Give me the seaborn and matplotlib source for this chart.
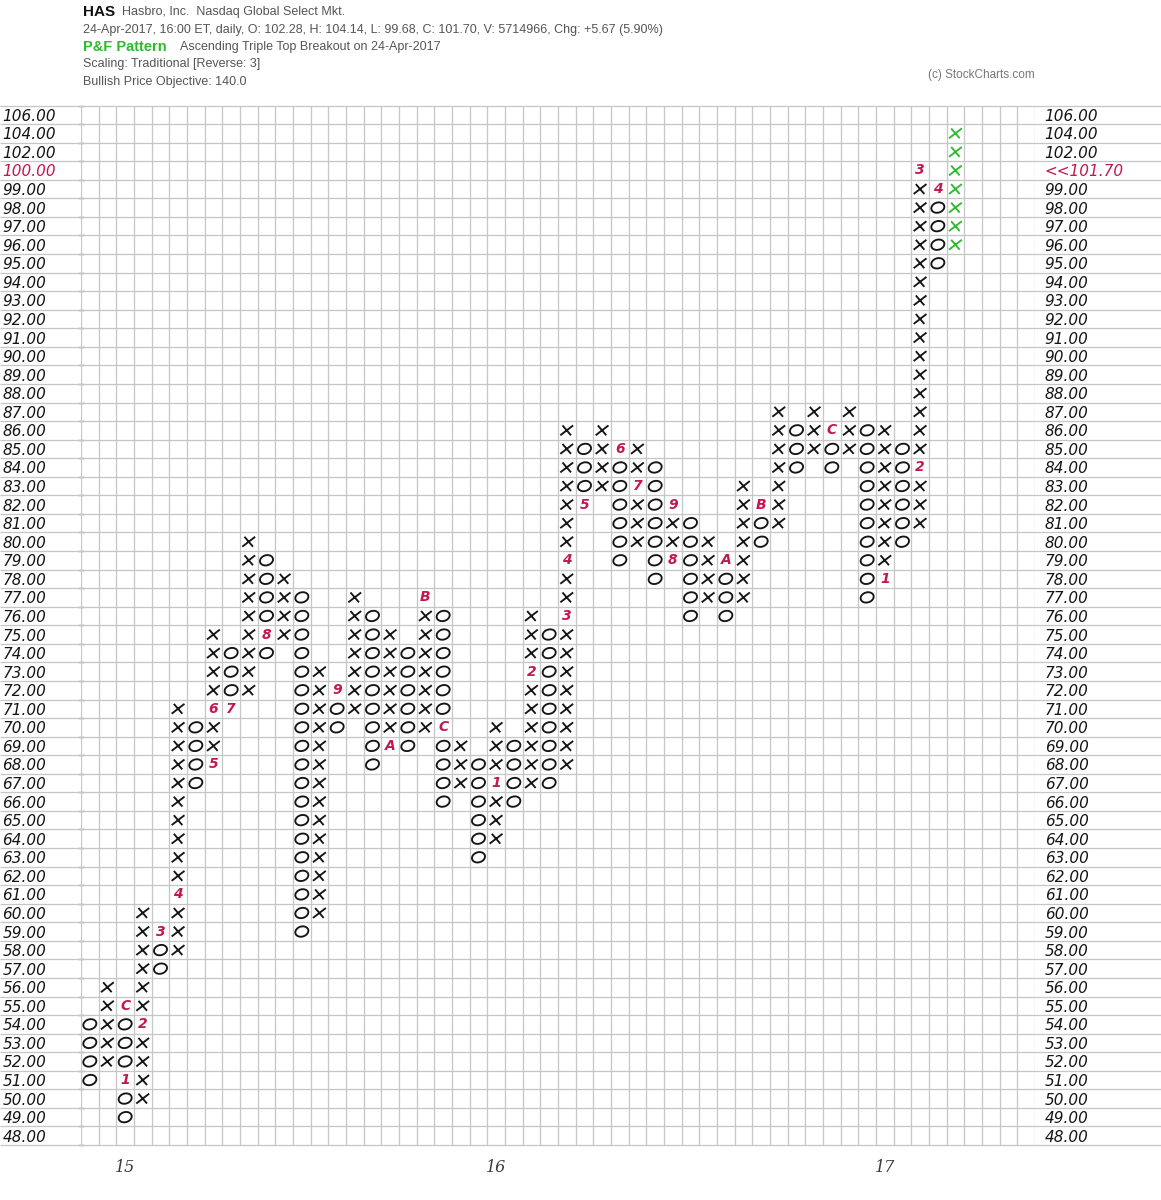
import numpy as np
import pandas as pd
import matplotlib
matplotlib.use("Agg")
import matplotlib.pyplot as plt
from matplotlib.path import Path
import seaborn as sns

# ---- HAS point & figure data: traditional box scale, 3-box reversal ----
price_levels = list(range(48, 100)) + [100, 102, 104, 106]

column_kind = ["O", "X"] * 25
column_low = [51, 52, 49, 50, 57, 58, 67, 68, 71, 72,
              74, 75, 59, 60, 70, 71, 68, 69, 69, 70,
              66, 67, 63, 64, 66, 67, 67, 68, 82, 83,
              79, 80, 78, 79, 76, 77, 76, 77, 80, 81,
              84, 85, 84, 85, 77, 78, 80, 81, 95, 96]
column_high = [54, 56, 55, 60, 59, 71, 70, 75, 74, 80,
               79, 78, 77, 73, 72, 77, 76, 75, 74, 77,
               76, 69, 68, 70, 69, 76, 75, 86, 85, 86,
               85, 85, 84, 82, 81, 80, 79, 83, 82, 87,
               86, 87, 86, 87, 86, 86, 85, 100, 99, 104]

# first box of each month (1-9, A=Oct, B=Nov, C=Dec)
month_col = [2, 2, 3, 4, 5, 7, 7, 8, 10, 14, 17, 19, 20, 23, 25, 27, 27, 28,
             30, 31, 33, 33, 36, 38, 42, 45, 47, 47, 48]
month_price = [55, 51, 54, 59, 61, 68, 71, 71, 75, 72, 69, 77, 70, 67, 73, 76,
               79, 82, 85, 83, 79, 82, 79, 82, 86, 78, 84, 100, 99]
month_label = ["C", "1", "2", "3", "4", "5", "6", "7", "8", "9", "A", "B", "C",
               "1", "2", "3", "4", "5", "6", "7", "8", "9", "A", "B", "C",
               "1", "2", "3", "4"]

year_col = [2, 23, 45]
year_label = ["15", "16", "17"]
last_close = 101.70

header_quote = ("24-Apr-2017, 16:00 ET, daily, O: 102.28, H: 104.14, L: 99.68, "
                "C: 101.70, V: 5714966, Chg: +5.67 (5.90%)")
pattern_text = "Ascending Triple Top Breakout on 24-Apr-2017"
scaling_text = "Scaling: Traditional [Reverse: 3]"
objective_text = "Bullish Price Objective: 140.0"

# ---- styling ----
sns.set_style("white")
plt.rcParams["font.family"] = ["DejaVu Sans"]

RED = "#c4174f"
GREEN = "#2dbb2d"
INK = "#151515"
GRID = "#c6c6c6"

W, H = 1161, 1200
fig = plt.figure(figsize=(W / 100, H / 100), dpi=100)
ax_left, ax_right, ax_top, ax_bot = 81, 1035, 105.5, 1145
ax = fig.add_axes([ax_left / W, 1 - ax_bot / H,
                   (ax_right - ax_left) / W, (ax_bot - ax_top) / H])

n_cols = 54
n_rows = len(price_levels)
level_of = {p: i for i, p in enumerate(price_levels)}

# ---- boxes ----
month_boxes = set(zip(month_col, month_price))
records = []
last_col = len(column_kind) - 1
for c, (kind, lo, hi) in enumerate(zip(column_kind, column_low, column_high)):
    for p in price_levels:
        if lo <= p <= hi and (c, p) not in month_boxes:
            records.append({"col": c, "level": level_of[p], "kind": kind,
                            "current": c == last_col})
boxes = pd.DataFrame(records)

# hand-drawn looking glyphs (slanted X and oval O)
x_glyph = Path([(-0.66, -0.5), (0.64, 0.5), (-0.44, 0.5), (0.42, -0.5)],
               [Path.MOVETO, Path.LINETO, Path.MOVETO, Path.LINETO])
t = np.linspace(0, 2 * np.pi, 64)
o_glyph = Path(np.column_stack([0.62 * np.cos(t) + 0.1 * np.sin(t),
                                0.5 * np.sin(t)]), closed=True)
glyphs = {"X": x_glyph, "O": o_glyph}

for (kind, current), grp in boxes.groupby(["kind", "current"]):
    col = GREEN if current else INK
    sns.scatterplot(data=grp, x="col", y="level", marker=glyphs[kind], s=88,
                    color=col, facecolor="none", edgecolor=col, linewidth=1.35,
                    legend=False, ax=ax, zorder=3)

for c, p, lab in zip(month_col, month_price, month_label):
    ax.text(c, level_of[p], lab, ha="center", va="center", color=RED,
            fontsize=10, fontweight="bold", style="italic", zorder=4)

# ---- grid ----
ax.set_xlim(-0.5, n_cols - 0.5)
ax.set_ylim(-0.5, n_rows - 0.5)
ax.vlines(np.arange(n_cols + 1) - 0.5, -0.5, n_rows - 0.5, color=GRID,
          linewidth=0.9, zorder=1)
ax.hlines(np.arange(n_rows + 1) - 0.5, -ax_left / (ax_right - ax_left),
          (W - ax_left) / (ax_right - ax_left), transform=ax.get_yaxis_transform(),
          color=GRID, linewidth=0.9, clip_on=False, zorder=1)
for s in ax.spines.values():
    s.set_visible(False)
ax.set_xlabel("")
ax.set_ylabel("")

# ---- price axis ----
ax.set_yticks(range(n_rows))
ax.set_yticklabels([f"{p:.2f}" for p in price_levels])
ax.set_yticks(np.arange(n_rows + 1) - 0.5, minor=True)
ax.tick_params(axis="y", which="major", length=0, pad=56.5, labelsize=11,
               labelcolor=INK)
ax.tick_params(axis="y", which="minor", length=4, width=1, direction="inout",
               color="#8a8a8a", left=True, right=True)
for lbl in ax.get_yticklabels():
    lbl.set_ha("left")
    lbl.set_style("italic")
    if lbl.get_text() == "100.00":
        lbl.set_color(RED)

ax2 = ax.twinx()
ax2.set_ylim(ax.get_ylim())
right_labels = [f"{p:.2f}" for p in price_levels]
right_labels[level_of[100]] = f"<<{last_close:.2f}"
ax2.set_yticks(range(n_rows))
ax2.set_yticklabels(right_labels)
ax2.tick_params(axis="y", length=0, pad=7, labelsize=11, labelcolor=INK)
for lbl in ax2.get_yticklabels():
    lbl.set_style("italic")
    if lbl.get_text().startswith("<<"):
        lbl.set_color(RED)
for s in ax2.spines.values():
    s.set_visible(False)

# ---- year axis ----
ax.set_xticks(year_col)
ax.set_xticklabels(year_label)
ax.tick_params(axis="x", length=6, width=1, color="#b0b0b0", pad=4,
               labelsize=11.5, labelcolor="#3a3a3a")
for lbl in ax.get_xticklabels():
    lbl.set_style("italic")
    lbl.set_family(["DejaVu Serif"])

# ---- header ----
def fx(px):
    return px / W

def fy(px):
    return 1 - px / H

hdr = dict(family=["Liberation Sans", "DejaVu Sans"], va="center", color="#555555")
fig.text(fx(83), fy(12), "HAS", fontsize=11, fontweight="bold",
         **{**hdr, "color": "#111111"})
fig.text(fx(122), fy(12), "Hasbro, Inc.  Nasdaq Global Select Mkt.",
         fontsize=9, **hdr)
fig.text(fx(83), fy(30), header_quote, fontsize=9, **hdr)
fig.text(fx(83), fy(47), "P&F Pattern", fontsize=10.5, fontweight="bold",
         **{**hdr, "color": GREEN})
fig.text(fx(180), fy(47), pattern_text, fontsize=9, **hdr)
fig.text(fx(83), fy(64), scaling_text, fontsize=9, **hdr)
fig.text(fx(83), fy(82), objective_text, fontsize=9, **hdr)
fig.text(fx(928), fy(75), "(c) StockCharts.com", fontsize=8.5,
         **{**hdr, "color": "#777777"})

fig.savefig("out.png", dpi=100, facecolor="white")
